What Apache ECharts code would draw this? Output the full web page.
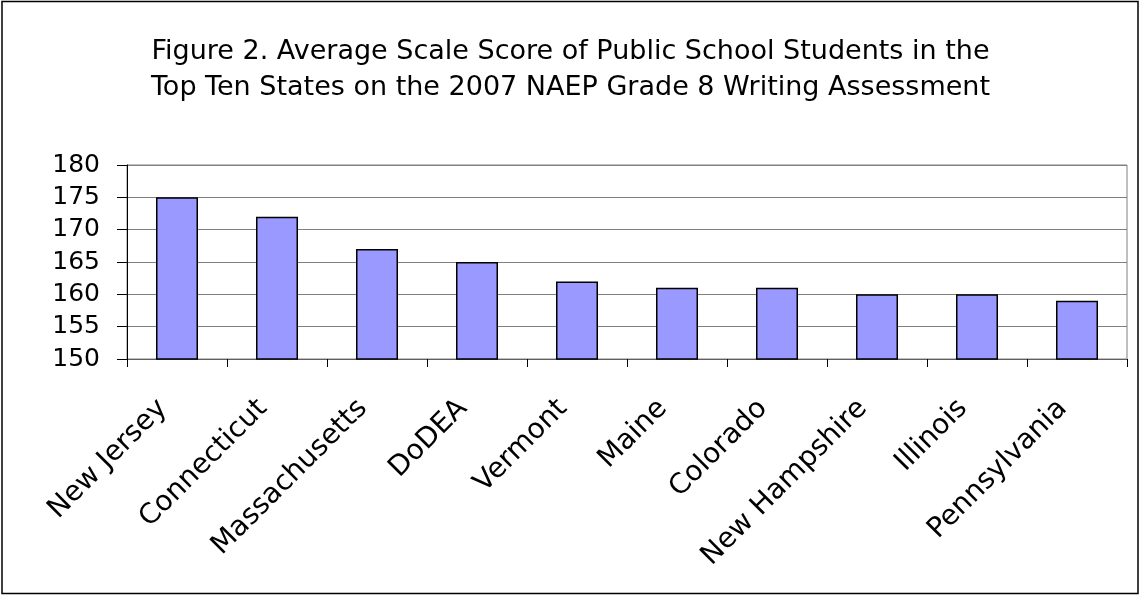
<!DOCTYPE html>
<html>
<head>
<meta charset="utf-8">
<script src="https://cdn.jsdelivr.net/npm/echarts@6/dist/echarts.min.js"></script>
<style>
html,body{margin:0;padding:0;background:#fff;}
#chart{width:1141px;height:596px;}
</style>
</head>
<body>
<div id="chart"></div>
<script>
const titleText = "Figure 2. Average Scale Score of Public School Students in the\nTop Ten States on the 2007 NAEP Grade 8 Writing Assessment";
const categories = ["New Jersey","Connecticut","Massachusetts","DoDEA","Vermont","Maine","Colorado","New Hampshire","Illinois","Pennsylvania"];
const scores = [175,172,167,165,162,161,161,160,160,159];
const yTicks = [150,155,160,165,170,175,180];

const FONT = "DejaVu Sans";
const chart = echarts.init(document.getElementById('chart'), null, {renderer:'canvas'});
chart.setOption({
  animation:false,
  backgroundColor:'#ffffff',
  title:{
    text:titleText,
    left:'center',
    top:29,
    textStyle:{fontFamily:FONT,fontSize:27,fontWeight:'normal',color:'#000',lineHeight:36}
  },
  graphic:[{
    type:'rect',
    shape:{x:2,y:1.5,width:1136,height:592},
    style:{fill:'none',stroke:'#000',lineWidth:1.5},
    silent:true
  }],
  grid:{left:127,right:14,top:165,bottom:237,show:true,borderColor:'#808080',borderWidth:1},
  xAxis:{
    type:'category',
    data:categories,
    axisLine:{lineStyle:{color:'#606060',width:1}},
    axisTick:{show:true,length:8,alignWithLabel:false,lineStyle:{color:'#000'}},
    axisLabel:{rotate:45,margin:31,padding:[0,20,0,0],fontFamily:FONT,fontSize:28,color:'#000',interval:0}
  },
  yAxis:{
    type:'value',
    min:yTicks[0],
    max:yTicks[yTicks.length-1],
    interval:5,
    axisLine:{show:true,lineStyle:{color:'#000',width:1}},
    axisTick:{show:true,length:10,lineStyle:{color:'#000'}},
    splitLine:{show:true,lineStyle:{color:'#808080',width:1}},
    axisLabel:{margin:27,fontFamily:FONT,fontSize:25,color:'#000'}
  },
  series:[{
    type:'bar',
    data:scores,
    barWidth:'42%',
    itemStyle:{color:'#9999FF',borderColor:'#000',borderWidth:1.5}
  }]
});
</script>
</body>
</html>
